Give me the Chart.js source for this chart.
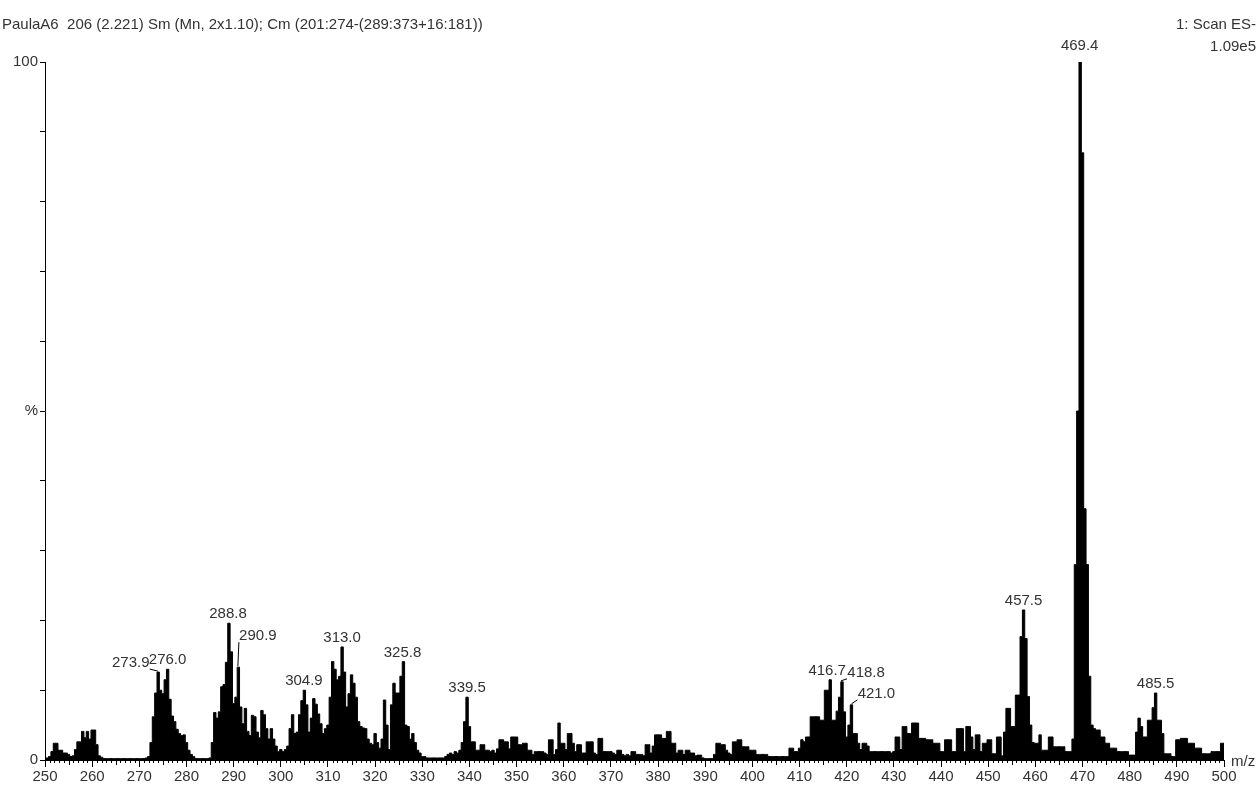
<!DOCTYPE html>
<html>
<head>
<meta charset="utf-8">
<script src="https://cdn.jsdelivr.net/npm/chart.js@4.4.1/dist/chart.umd.min.js"></script>
<style>
  html, body { margin: 0; padding: 0; background: #fff; }
</style>
</head>
<body>
<canvas id="espectro" width="1259" height="795"></canvas>
<script>
// eje m/z: un valor cada 0.5 desde 250 hasta 500
const mzStart = 250;
const mzStep = 0.5;

// intensidad relativa (%)
const intensity = [
  0.3, 0.3, 0.5, 1.2, 2.4, 2.4, 1.4, 1.4, 1.0, 1.0,      // 250
  0.8, 0.5, 0.6, 1.5, 2.6, 2.6, 4.1, 3.2, 4.1, 3.0,      // 255
  4.3, 4.3, 2.2, 0.6, 0.4, 0.2, 0.2, 0.2, 0.2, 0.2,      // 260
  0.2, 0.2, 0.2, 0.2, 0.2, 0.2, 0.2, 0.2, 0.2, 0.2,      // 265
  0.2, 0.2, 0.2, 0.3, 0.5, 2.5, 6.2, 9.6, 12.6, 10.0,    // 270
  9.5, 11.5, 13.0, 8.7, 6.3, 5.5, 4.4, 3.8, 3.5, 3.6,    // 275
  2.5, 1.4, 0.8, 0.5, 0.2, 0.2, 0.2, 0.2, 0.2, 0.2,      // 280
  0.3, 2.5, 6.8, 6.0, 6.9, 10.5, 10.8, 14.0, 19.6, 15.5, // 285
  8.1, 9.0, 13.3, 7.6, 5.2, 7.4, 4.1, 3.5, 6.4, 6.2,     // 290
  4.0, 3.2, 7.1, 6.5, 4.5, 3.0, 4.5, 3.0, 2.0, 1.2,      // 295
  1.5, 1.2, 1.5, 2.0, 4.5, 6.5, 3.8, 4.0, 6.5, 8.5,      // 300
  10.0, 7.9, 4.0, 6.0, 8.8, 8.0, 6.6, 5.2, 3.8, 4.5,     // 305
  5.0, 9.0, 14.1, 13.0, 11.5, 12.0, 16.2, 12.6, 7.6, 9.5, // 310
  12.2, 11.0, 9.0, 5.5, 4.8, 4.6, 4.5, 3.0, 2.4, 2.2,    // 315
  3.8, 2.5, 1.7, 3.0, 8.6, 5.0, 1.5, 7.9, 11.0, 9.6,     // 320
  9.6, 12.0, 14.1, 5.0, 4.8, 3.0, 3.8, 2.5, 1.4, 1.0,    // 325
  0.5, 0.5, 0.3, 0.3, 0.3, 0.3, 0.3, 0.3, 0.3, 0.3,      // 330
  0.5, 0.8, 1.0, 0.8, 1.2, 1.0, 1.4, 2.5, 5.5, 9.0,      // 335
  4.8, 2.6, 2.6, 1.4, 1.4, 2.2, 2.2, 1.4, 1.4, 1.2,      // 340
  1.4, 1.0, 1.6, 2.9, 2.9, 2.6, 2.6, 1.6, 3.3, 3.3,      // 345
  3.3, 2.2, 2.2, 2.4, 2.4, 1.4, 1.4, 0.8, 1.2, 1.2,      // 350
  1.2, 1.2, 1.0, 0.8, 2.9, 2.9, 0.8, 1.5, 5.3, 2.4,      // 355
  2.4, 1.5, 3.8, 3.8, 2.4, 1.2, 2.2, 2.2, 1.0, 1.0,      // 360
  2.6, 2.6, 2.6, 1.0, 0.8, 3.1, 3.1, 1.2, 1.2, 1.2,      // 365
  1.2, 1.0, 0.8, 1.4, 1.4, 0.8, 0.6, 0.8, 0.6, 1.2,      // 370
  1.2, 0.8, 0.8, 0.8, 0.6, 2.2, 2.2, 1.0, 2.0, 3.6,      // 375
  3.6, 3.6, 3.1, 3.1, 4.1, 4.1, 2.4, 2.4, 1.0, 1.4,      // 380
  1.4, 0.8, 1.4, 1.4, 1.0, 1.0, 0.6, 0.7, 0.7, 0.3,      // 385
  0.2, 0.2, 0.2, 0.2, 0.8, 2.4, 2.4, 2.2, 2.2, 1.4,      // 390
  1.0, 0.8, 2.6, 2.6, 2.9, 2.9, 1.9, 1.9, 1.9, 1.4,      // 395
  1.4, 1.4, 0.8, 0.8, 0.8, 0.8, 0.8, 0.5, 0.5, 0.5,      // 400
  0.5, 0.5, 0.5, 0.5, 0.5, 0.5, 1.7, 1.7, 1.2, 1.2,      // 405
  1.7, 2.9, 2.6, 3.3, 3.3, 6.2, 6.2, 6.2, 6.2, 5.7,      // 410
  5.7, 10.0, 10.0, 11.5, 5.7, 5.7, 7.0, 9.0, 11.2, 6.9,  // 415
  3.3, 5.0, 7.9, 3.8, 3.8, 2.4, 1.5, 2.4, 2.4, 2.0,      // 420
  1.2, 1.2, 1.2, 1.2, 1.2, 1.2, 1.2, 1.2, 1.2, 1.0,      // 425
  1.2, 3.3, 3.3, 1.5, 4.8, 4.8, 3.8, 3.8, 5.3, 5.3,      // 430
  5.3, 3.1, 3.1, 3.1, 2.9, 2.9, 2.9, 2.4, 2.4, 2.4,      // 435
  1.2, 1.2, 2.9, 2.9, 2.9, 1.2, 1.2, 4.5, 4.5, 4.5,      // 440
  1.2, 4.8, 4.8, 3.3, 1.5, 3.6, 3.6, 1.2, 2.4, 2.4,      // 445
  2.9, 2.9, 0.9, 0.9, 3.3, 3.3, 0.6, 4.0, 7.4, 7.4,      // 450
  4.8, 4.8, 9.3, 9.3, 17.7, 21.5, 17.4, 9.1, 5.0, 2.5,   // 455
  2.4, 2.4, 3.6, 1.4, 1.4, 1.4, 3.3, 3.3, 1.9, 1.9,      // 460
  1.9, 1.9, 1.9, 1.2, 1.2, 1.2, 3.0, 28, 50, 100,        // 465
  87, 36, 28, 12, 5.0, 4.5, 4.3, 4.3, 3.3, 3.3,          // 470
  2.4, 2.4, 1.7, 1.7, 1.7, 1.2, 1.2, 1.2, 1.2, 1.2,      // 475
  0.7, 0.7, 0.7, 4.0, 6.0, 4.8, 3.3, 3.3, 5.7, 5.7,      // 480
  7.5, 9.6, 5.7, 5.7, 3.8, 0.9, 0.9, 0.9, 0.5, 0.5,      // 485
  2.9, 2.9, 3.1, 3.1, 3.1, 2.4, 2.4, 2.4, 1.7, 1.7,      // 490
  1.7, 0.9, 0.9, 0.9, 0.9, 1.2, 1.2, 1.2, 1.2, 2.4,      // 495
  2.4                                                    // 500
];

// picos etiquetados
const peakMz = [273.9, 276.0, 288.8, 290.9, 304.9, 313.0, 325.8, 339.5,
                416.7, 418.8, 421.0, 457.5, 469.4, 485.5];

// textos de cabecera
const headerLeft = "PaulaA6  206 (2.221) Sm (Mn, 2x1.10); Cm (201:274-(289:373+16:181))";
const headerRight = ["1: Scan ES-", "1.09e5"];

// desplazamiento de cada etiqueta respecto a su pico (px)
const labelShift = [[-27, 0], [0, 0], [0, 0], [20, -22], [0, 0], [0, 0], [0, 0], [0, 0],
                    [-4, 0], [25, 0], [25, -2], [0, 0], [0, -7], [0, 0]];

const fuente = '"Liberation Sans Narrow", "Liberation Sans", Arial, sans-serif';

function alturaPico(mz) {
    const i = Math.round((mz - mzStart) / mzStep);
    return intensity[i];
}

const textos = {
    id: "textos",
    afterDraw(chart) {
        const ctx = chart.ctx;
        const x = chart.scales.x;
        const y = chart.scales.y;
        ctx.save();
        ctx.fillStyle = "#333";
        ctx.strokeStyle = "#000";
        ctx.lineWidth = 1;
        ctx.font = "15px " + fuente;
        ctx.textBaseline = "middle";

        ctx.textAlign = "left";
        ctx.fillText(headerLeft, 2, 25);
        ctx.textAlign = "right";
        ctx.fillText(headerRight[0], 1256, 25);
        ctx.fillText(headerRight[1], 1256, 47);
        ctx.textAlign = "left";
        ctx.fillText("m/z", x.right + 7, y.bottom + 2);

        // marcas menores del eje x
        ctx.beginPath();
        for (let v = mzStart + 1; v < 500; v++) {
            if (v % 10 === 0) continue;
            const px = Math.round(x.getPixelForValue(v)) + 0.5;
            const len = v % 5 === 0 ? 5 : 3;
            ctx.moveTo(px, y.bottom);
            ctx.lineTo(px, y.bottom + len);
        }
        ctx.stroke();

        // etiquetas de picos
        ctx.textAlign = "center";
        peakMz.forEach((mz, i) => {
            const px = x.getPixelForValue(mz);
            const py = y.getPixelForValue(alturaPico(mz));
            const lx = px + labelShift[i][0];
            const ly = py - 9 + labelShift[i][1];
            ctx.fillText(mz.toFixed(1), lx, ly);
            if (Math.abs(labelShift[i][0]) > 10) {
                const sx = lx + (labelShift[i][0] > 0 ? -19 : 19);
                ctx.beginPath();
                ctx.moveTo(sx, ly + 6);
                ctx.lineTo(px, py - 1);
                ctx.stroke();
            }
        });
        ctx.restore();
    }
};

new Chart(document.getElementById("espectro"), {
    type: "line",
    data: {
        datasets: [{
            data: intensity.map((v, i) => ({ x: mzStart + i * mzStep, y: v })),
            borderColor: "#000",
            backgroundColor: "#000",
            borderWidth: 1,
            fill: "origin",
            stepped: "middle",
            pointRadius: 0
        }]
    },
    options: {
        responsive: false,
        animation: false,
        layout: { padding: { top: 62, right: 35, left: 0, bottom: 0 } },
        plugins: { legend: { display: false }, tooltip: { enabled: false } },
        scales: {
            x: {
                type: "linear",
                min: 250,
                max: 500,
                afterFit: s => { s.height = 35; },
                border: { color: "#000", width: 1 },
                grid: { drawOnChartArea: false, tickLength: 7, color: "#000",
                        tickColor: c => (c.tick && c.tick.value % 10 === 0 ? "#000" : "rgba(0,0,0,0)") },
                ticks: {
                    stepSize: 1,
                    autoSkip: false,
                    maxRotation: 0,
                    minRotation: 0,
                    padding: 1,
                    color: "#333",
                    font: { family: fuente, size: 15 },
                    callback: v => (v % 10 === 0 ? String(v) : "")
                }
            },
            y: {
                min: 0,
                max: 100,
                afterFit: s => { s.width = 45; },
                border: { color: "#000", width: 1 },
                grid: { drawOnChartArea: false, tickLength: 5, color: "#000" },
                ticks: {
                    stepSize: 10,
                    padding: 2,
                    color: "#333",
                    font: { family: fuente, size: 15 },
                    callback: v => (v === 0 ? "0" : v === 100 ? "100" : v === 50 ? "%" : "")
                }
            }
        }
    },
    plugins: [textos]
});
</script>
</body>
</html>
